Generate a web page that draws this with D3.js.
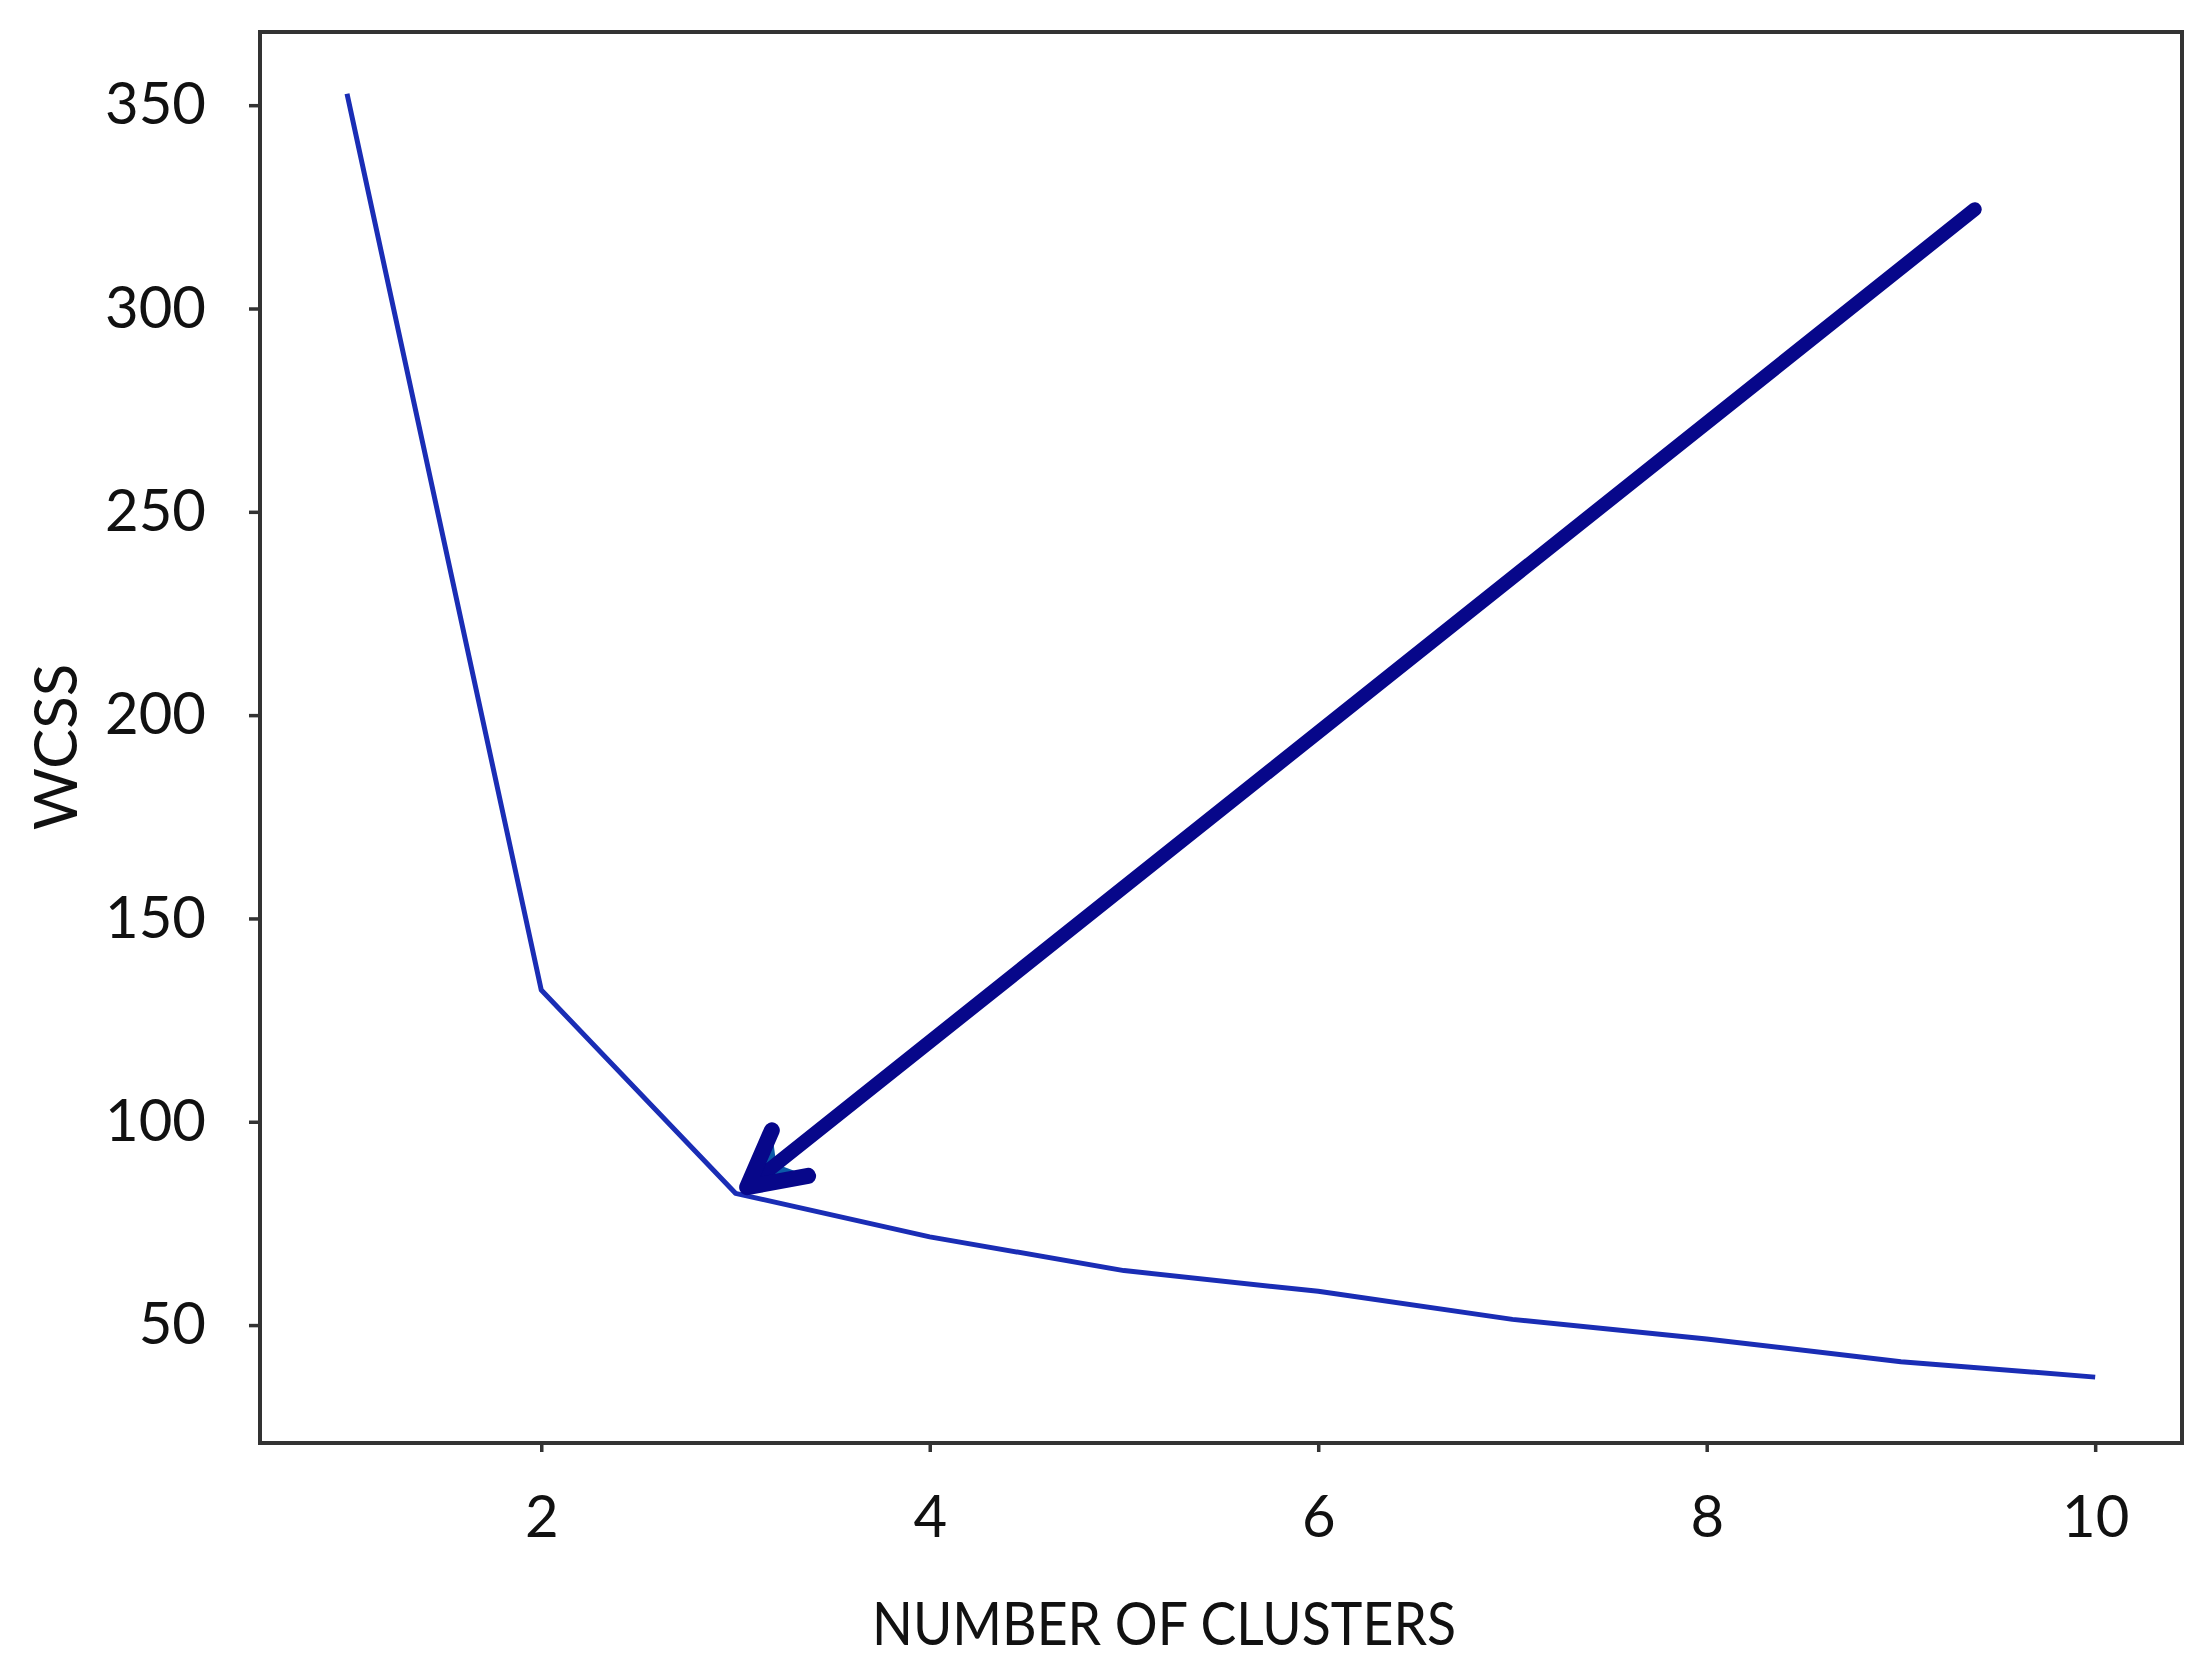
<!DOCTYPE html>
<html>
<head>
<meta charset="utf-8">
<script src="https://cdn.jsdelivr.net/npm/d3@7"></script>
<style>
  body { margin: 0; background: #fff; }
  svg text { font-family: Lato, "Open Sans", sans-serif; fill: #111; }
  .tick line { stroke: #333; stroke-width: 3.5; }
</style>
</head>
<body>
<svg id="elbow"></svg>
<script>
// chart size and margins (plot box 260..2182 x 32..1443)
var width = 2199;
var height = 1676;
var margin = {"top": 32, "bottom": 233, "left": 260, "right": 17};

// data
var clusters = [1, 2, 3, 4, 5, 6, 7, 8, 9, 10];
var wcss = [352.8, 132.4, 82.4, 71.7, 63.4, 58.3, 51.4, 46.6, 41.0, 37.2];
var xTicks = [2, 4, 6, 8, 10];
var yTicks = [50, 100, 150, 200, 250, 300, 350];
var xDomain = [0.552, 10.447];
var yDomain = [21, 368];
// annotation arrow, in data units
var arrowFrom = [9.38, 324.4];
var arrowTo = [3.06, 83.9];

var innerW = width - margin.left - margin.right;
var innerH = height - margin.top - margin.bottom;

var svg = d3.select("svg#elbow")
  .attr("width", width)
  .attr("height", height)
  .append("g")
  .attr("transform", "translate(" + margin.left + "," + margin.top + ")");

var xScale = d3.scaleLinear().domain(xDomain).range([0, innerW]);
var yScale = d3.scaleLinear().domain(yDomain).range([innerH, 0]);

var xAxis = d3.axisBottom(xScale)
  .tickValues(xTicks)
  .tickSize(9)
  .tickPadding(44);

var yAxis = d3.axisLeft(yScale)
  .tickValues(yTicks)
  .tickSize(11)
  .tickPadding(43);

svg.append("g")
  .attr("class", "xAxis")
  .attr("transform", "translate(0," + innerH + ")")
  .call(xAxis)
  .call(function(g) { g.select(".domain").remove(); })
  .selectAll("text")
  .style("font-size", "58px");

svg.append("g")
  .attr("class", "yAxis")
  .call(yAxis)
  .call(function(g) { g.select(".domain").remove(); })
  .selectAll("text")
  .style("font-size", "58px");

// frame around the plot
svg.append("rect")
  .attr("width", innerW)
  .attr("height", innerH)
  .attr("fill", "none")
  .attr("stroke", "#333")
  .attr("stroke-width", 4);

// titles
svg.append("text")
  .attr("x", 1164 - margin.left)
  .attr("y", innerH + 202)
  .style("text-anchor", "middle")
  .style("font-size", "60px")
  .attr("textLength", 584)
  .attr("lengthAdjust", "spacingAndGlyphs")
  .text("NUMBER OF CLUSTERS");

svg.append("text")
  .attr("transform", "translate(" + (77 - margin.left) + "," + (747 - margin.top) + ") rotate(-90)")
  .style("text-anchor", "middle")
  .style("font-size", "60px")
  .text("WCSS");

// the elbow line
var line = d3.line()
  .x(function(d, i) { return xScale(clusters[i]); })
  .y(function(d) { return d; });

svg.append("path")
  .attr("d", line(wcss.map(function(v) { return yScale(v); })))
  .attr("fill", "none")
  .attr("stroke", "#1a2db5")
  .attr("stroke-width", 5)
  .attr("stroke-linejoin", "round");

// arrow pointing at the elbow
var x0 = xScale(arrowFrom[0]), y0 = yScale(arrowFrom[1]);
var x1 = xScale(arrowTo[0]), y1 = yScale(arrowTo[1]);
var len = Math.sqrt((x0 - x1) * (x0 - x1) + (y0 - y1) * (y0 - y1));
var ux = (x0 - x1) / len, uy = (y0 - y1) / len;
var headLen = 62, headAng = 28 * Math.PI / 180;

function rot(a) {
  return [x1 + headLen * (ux * Math.cos(a) - uy * Math.sin(a)),
          y1 + headLen * (ux * Math.sin(a) + uy * Math.cos(a))];
}
var armA = rot(-headAng), armB = rot(headAng);
var notch = [x1 + headLen * 0.6 * ux, y1 + headLen * 0.6 * uy];

svg.append("path")
  .attr("d", "M" + x1 + "," + y1 + "L" + armA.join(",") + "L" + notch.join(",") + "L" + armB.join(",") + "Z")
  .attr("fill", "#0b5aa8")
  .attr("stroke", "none");

svg.append("line")
  .attr("x1", x0)
  .attr("y1", y0)
  .attr("x2", x1 + 6 * ux)
  .attr("y2", y1 + 6 * uy)
  .attr("stroke", "#07078a")
  .attr("stroke-width", 14)
  .attr("stroke-linecap", "round");

svg.append("path")
  .attr("d", "M" + armA.join(",") + "L" + x1 + "," + y1 + "L" + armB.join(","))
  .attr("fill", "none")
  .attr("stroke", "#07078a")
  .attr("stroke-width", 16)
  .attr("stroke-linejoin", "round")
  .attr("stroke-linecap", "round");
</script>
</body>
</html>
